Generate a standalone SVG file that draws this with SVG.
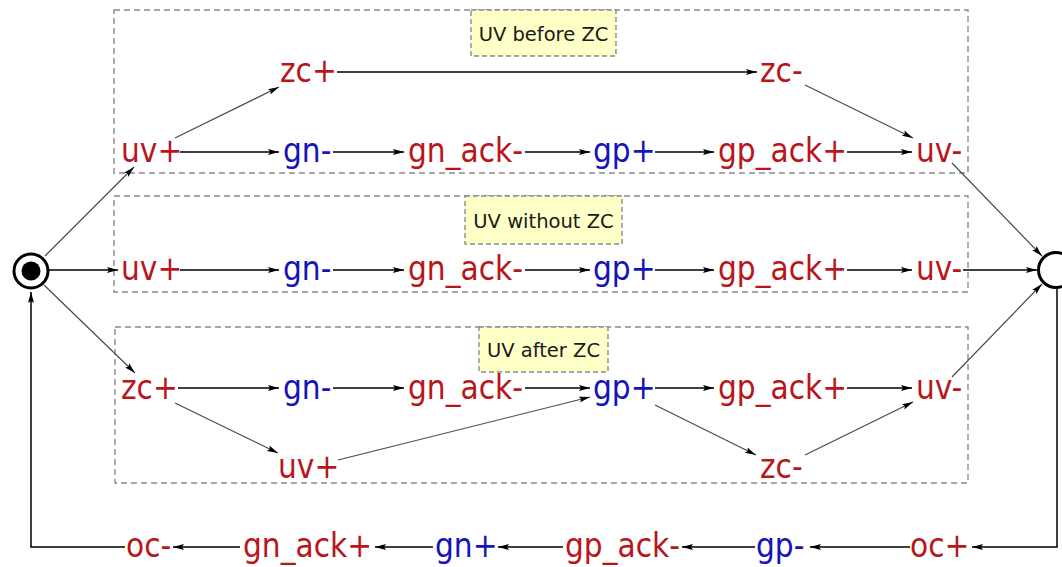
<svg xmlns="http://www.w3.org/2000/svg" width="1062" height="567" viewBox="0 0 1062 567">
<style>
.grp{fill:none;stroke:#8a8a8a;stroke-width:1.4;stroke-dasharray:6,4}
.lbl{fill:#ffffc8;stroke:#8a8a8a;stroke-width:1.4;stroke-dasharray:5,3}
.lt{font-family:"DejaVu Sans",sans-serif;font-size:19.5px;fill:#1a1a1a;text-anchor:middle}
.n{font-family:"DejaVu Sans Condensed","DejaVu Sans",sans-serif;font-stretch:condensed;font-size:33px}
.r{fill:#b8161b}
.b{fill:#1414b8}
.e{stroke:#000;stroke-width:1.5;fill:none;marker-end:url(#ah)}
.d{stroke:#4a4a4a;stroke-width:1.2;fill:none;marker-end:url(#ah)}
</style>
<defs>
<marker id="ah" markerUnits="userSpaceOnUse" markerWidth="12" markerHeight="8" refX="11" refY="4" orient="auto">
<path d="M0,1 L11,4 L0,7 L2,4 Z" fill="#000"/>
</marker>
</defs>
<rect width="1062" height="567" fill="#fff"/>
<g id="groups">
<rect id="box-before" class="grp" x="114" y="10" width="854" height="163"/>
<rect id="box-without" class="grp" x="114" y="196" width="854" height="96"/>
<rect id="box-after" class="grp" x="115" y="327" width="853" height="156"/>
<g id="label-before"><rect class="lbl" x="471" y="10" width="145" height="46"/><text class="lt" x="543.5" y="41">UV before ZC</text></g>
<g id="label-without"><rect class="lbl" x="465" y="196" width="157" height="48"/><text class="lt" x="543.5" y="228">UV without ZC</text></g>
<g id="label-after"><rect class="lbl" x="479" y="327" width="129" height="45"/><text class="lt" x="543.5" y="357">UV after ZC</text></g>
</g>
<g id="connectors">
<line class="d" x1="45" y1="256" x2="134" y2="167"/>
<line class="d" x1="175" y1="138" x2="279" y2="87"/>
<line class="e" x1="180" y1="152" x2="279" y2="152"/>
<line class="e" x1="333" y1="152" x2="404" y2="152"/>
<line class="e" x1="525" y1="152" x2="590" y2="152"/>
<line class="e" x1="655" y1="152" x2="714" y2="152"/>
<line class="e" x1="847" y1="152" x2="912" y2="152"/>
<line class="e" x1="337" y1="72" x2="757" y2="72"/>
<line class="d" x1="805" y1="85" x2="913" y2="138"/>
<line class="d" x1="952" y1="163" x2="1042" y2="256"/>
<line class="e" x1="49" y1="270" x2="118" y2="270"/>
<line class="e" x1="180" y1="270" x2="279" y2="270"/>
<line class="e" x1="333" y1="270" x2="404" y2="270"/>
<line class="e" x1="525" y1="270" x2="590" y2="270"/>
<line class="e" x1="655" y1="270" x2="714" y2="270"/>
<line class="e" x1="847" y1="270" x2="912" y2="270"/>
<line class="e" x1="963" y1="270" x2="1037" y2="270"/>
<line class="d" x1="44" y1="285" x2="135" y2="373"/>
<line class="e" x1="178" y1="388" x2="279" y2="388"/>
<line class="e" x1="333" y1="388" x2="404" y2="388"/>
<line class="e" x1="525" y1="388" x2="590" y2="388"/>
<line class="e" x1="655" y1="388" x2="714" y2="388"/>
<line class="e" x1="847" y1="388" x2="912" y2="388"/>
<line class="d" x1="175" y1="403" x2="278" y2="453"/>
<line class="d" x1="338" y1="460" x2="590" y2="397"/>
<line class="d" x1="655" y1="405" x2="756" y2="455"/>
<line class="d" x1="805" y1="455" x2="913" y2="402"/>
<line class="d" x1="952" y1="377" x2="1042" y2="284"/>
<path class="e" d="M1057,288 V547 H972"/>
<line class="e" x1="910" y1="547" x2="810" y2="547"/>
<line class="e" x1="755" y1="547" x2="682" y2="547"/>
<line class="e" x1="563" y1="547" x2="498" y2="547"/>
<line class="e" x1="433" y1="547" x2="375" y2="547"/>
<line class="e" x1="240" y1="547" x2="173" y2="547"/>
<path class="e" d="M125,547 H31 V292"/>
</g>
<g id="start"><circle cx="31" cy="271" r="17" fill="#fff" stroke="#000" stroke-width="3"/><circle cx="31" cy="271" r="9.5" fill="#000"/></g>
<g id="end"><circle cx="1056" cy="270" r="17.5" fill="#fff" stroke="#000" stroke-width="3"/></g>
<g id="r1-zcp"><text class="n r" x="280" y="82">zc+</text></g>
<g id="r1-zcm"><text class="n r" x="760" y="82">zc-</text></g>
<g id="r2-uvp"><text class="n r" x="121" y="162">uv+</text></g>
<g id="r2-gnm"><text class="n b" x="283" y="162">gn-</text></g>
<g id="r2-gnackm"><text class="n r" x="408" y="162">gn_ack-</text></g>
<g id="r2-gpp"><text class="n b" x="593" y="162">gp+</text></g>
<g id="r2-gpackp"><text class="n r" x="718" y="162">gp_ack+</text></g>
<g id="r2-uvm"><text class="n r" x="916" y="162">uv-</text></g>
<g id="r3-uvp"><text class="n r" x="121" y="280">uv+</text></g>
<g id="r3-gnm"><text class="n b" x="283" y="280">gn-</text></g>
<g id="r3-gnackm"><text class="n r" x="408" y="280">gn_ack-</text></g>
<g id="r3-gpp"><text class="n b" x="593" y="280">gp+</text></g>
<g id="r3-gpackp"><text class="n r" x="718" y="280">gp_ack+</text></g>
<g id="r3-uvm"><text class="n r" x="916" y="280">uv-</text></g>
<g id="r4-zcp"><text class="n r" x="121" y="399">zc+</text></g>
<g id="r4-gnm"><text class="n b" x="283" y="399">gn-</text></g>
<g id="r4-gnackm"><text class="n r" x="408" y="399">gn_ack-</text></g>
<g id="r4-gpp"><text class="n b" x="593" y="399">gp+</text></g>
<g id="r4-gpackp"><text class="n r" x="718" y="399">gp_ack+</text></g>
<g id="r4-uvm"><text class="n r" x="916" y="399">uv-</text></g>
<g id="r5-uvp"><text class="n r" x="278" y="478">uv+</text></g>
<g id="r5-zcm"><text class="n r" x="760" y="478">zc-</text></g>
<g id="r6-ocm"><text class="n r" x="126" y="557">oc-</text></g>
<g id="r6-gnackp"><text class="n r" x="243" y="557">gn_ack+</text></g>
<g id="r6-gnp"><text class="n b" x="435" y="557">gn+</text></g>
<g id="r6-gpackm"><text class="n r" x="565" y="557">gp_ack-</text></g>
<g id="r6-gpm"><text class="n b" x="756" y="557">gp-</text></g>
<g id="r6-ocp"><text class="n r" x="910" y="557">oc+</text></g>
</svg>
